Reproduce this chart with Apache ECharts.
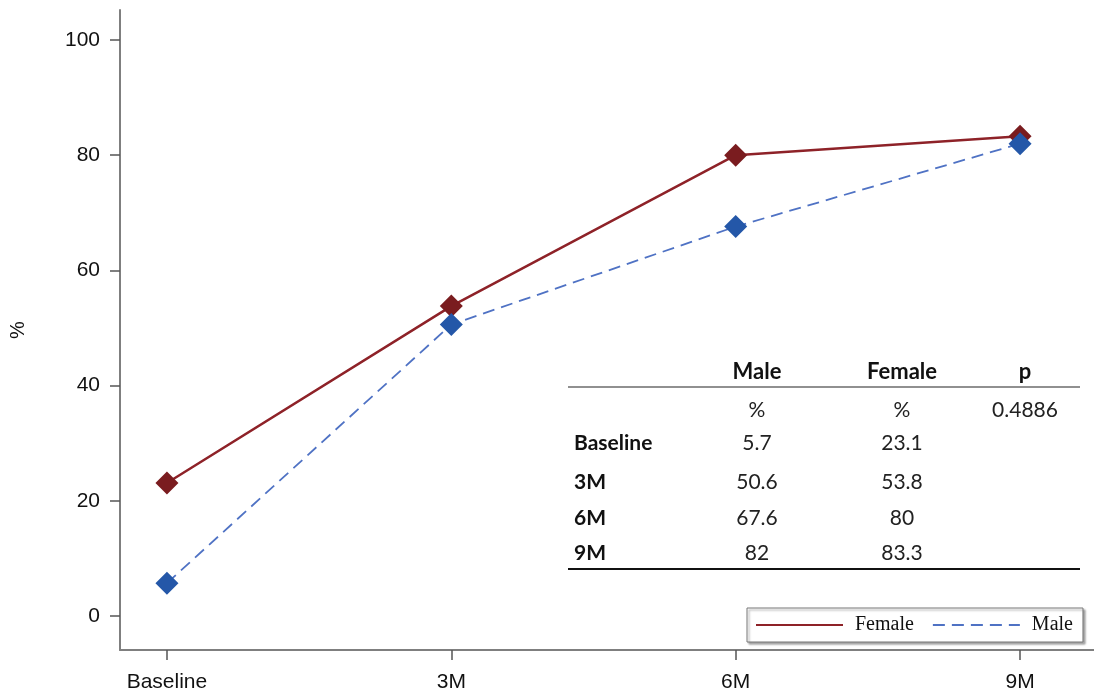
<!DOCTYPE html>
<html>
<head>
<meta charset="utf-8">
<script src="https://cdn.jsdelivr.net/npm/echarts@6/dist/echarts.min.js"></script>
<style>
  html, body { margin: 0; padding: 0; background: #fff; }
  #chart { width: 1094px; height: 695px; }
</style>
</head>
<body>
<div id="chart"></div>
<script>
// time points
const categories = ["Baseline", "3M", "6M", "9M"];
// % per group
const male = [5.7, 50.6, 67.6, 82];
const female = [23.1, 53.8, 80, 83.3];
const yTicks = [0, 20, 40, 60, 80, 100];
const pValue = "0.4886";

const chart = echarts.init(document.getElementById("chart"));

const tableFont = "Lato, 'Noto Sans', sans-serif";
const axisFont = "'Liberation Sans', Arial, sans-serif";
const colX = { label: 574, male: 757, female: 902, p: 1025 };
const rowY = [443, 482, 518, 553];

// summary table drawn as graphic text
const tableEls = [
  { type: "text", x: colX.male, y: 372, style: { text: "Male", font: "bold 22px " + tableFont, fill: "#111", align: "center", verticalAlign: "middle" } },
  { type: "text", x: colX.female, y: 372, style: { text: "Female", font: "bold 22px " + tableFont, fill: "#111", align: "center", verticalAlign: "middle" } },
  { type: "text", x: colX.p, y: 372, style: { text: "p", font: "bold 22px " + tableFont, fill: "#111", align: "center", verticalAlign: "middle" } },
  { type: "line", shape: { x1: 568, y1: 387, x2: 1080, y2: 387 }, style: { stroke: "#222", lineWidth: 1.2 } },
  { type: "text", x: colX.male, y: 410, style: { text: "%", font: "21px " + tableFont, fill: "#222", align: "center", verticalAlign: "middle" } },
  { type: "text", x: colX.female, y: 410, style: { text: "%", font: "21px " + tableFont, fill: "#222", align: "center", verticalAlign: "middle" } },
  { type: "text", x: colX.p, y: 410, style: { text: pValue, font: "21px " + tableFont, fill: "#222", align: "center", verticalAlign: "middle" } },
  { type: "line", shape: { x1: 568, y1: 569, x2: 1080, y2: 569 }, style: { stroke: "#111", lineWidth: 2.2 } }
];
categories.forEach((c, i) => {
  tableEls.push(
    { type: "text", x: colX.label, y: rowY[i], style: { text: c, font: "bold 21px " + tableFont, fill: "#111", verticalAlign: "middle" } },
    { type: "text", x: colX.male, y: rowY[i], style: { text: String(male[i]), font: "21px " + tableFont, fill: "#222", align: "center", verticalAlign: "middle" } },
    { type: "text", x: colX.female, y: rowY[i], style: { text: String(female[i]), font: "21px " + tableFont, fill: "#222", align: "center", verticalAlign: "middle" } }
  );
});

const option = {
  backgroundColor: "#fff",
  animation: false,
  grid: { left: 118, right: 0, top: 10, bottom: 45 },
  xAxis: {
    type: "value",
    min: -0.165,
    max: 3.26,
    splitLine: { show: false },
    axisLine: { show: true, onZero: false, lineStyle: { color: "#7f7f7f", width: 2 } },
    axisTick: { show: true, length: 10, customValues: [0, 1, 2, 3], lineStyle: { color: "#555", width: 1.5 } },
    axisLabel: {
      customValues: [0, 1, 2, 3],
      formatter: v => categories[Math.round(v)],
      color: "#111",
      fontSize: 21,
      fontFamily: axisFont,
      margin: 22
    }
  },
  yAxis: {
    type: "value",
    min: -5.9,
    max: 105.2,
    name: "%",
    nameLocation: "middle",
    nameGap: 92,
    nameRotate: 90,
    nameTextStyle: { color: "#111", fontSize: 20, fontFamily: axisFont },
    splitLine: { show: false },
    axisLine: { show: true, onZero: false, lineStyle: { color: "#7f7f7f", width: 2 } },
    axisTick: { show: true, length: 10, customValues: yTicks, lineStyle: { color: "#555", width: 1.5 } },
    axisLabel: {
      customValues: yTicks,
      color: "#111",
      fontSize: 21,
      fontFamily: axisFont,
      margin: 20
    }
  },
  legend: {
    left: 747,
    top: 608,
    orient: "horizontal",
    backgroundColor: "#fff",
    borderColor: "#777",
    borderWidth: 1,
    shadowColor: "rgba(0,0,0,0.35)",
    shadowBlur: 2,
    shadowOffsetX: 2,
    shadowOffsetY: 2,
    padding: [7, 10, 7, 8],
    itemWidth: 87,
    itemHeight: 14,
    itemGap: 18,
    textStyle: { fontFamily: "'Liberation Serif', 'Times New Roman', serif", fontSize: 20, color: "#111", padding: [0, 0, 0, 7] },
    data: [
      { name: "Female", itemStyle: { opacity: 0 } },
      { name: "Male", itemStyle: { opacity: 0 } }
    ]
  },
  series: [
    {
      name: "Female",
      type: "line",
      data: female.map((v, i) => [i, v]),
      symbol: "diamond",
      symbolSize: 23,
      itemStyle: { color: "#7a1c1f" },
      lineStyle: { color: "#8e2228", width: 2.5, type: "solid" },
      z: 2
    },
    {
      name: "Male",
      type: "line",
      data: male.map((v, i) => [i, v]),
      symbol: "diamond",
      symbolSize: 23,
      itemStyle: { color: "#2457a8" },
      lineStyle: { color: "#4f72c4", width: 1.8, type: [12, 7] },
      z: 3
    }
  ],
  graphic: tableEls
};

chart.setOption(option);
</script>
</body>
</html>
